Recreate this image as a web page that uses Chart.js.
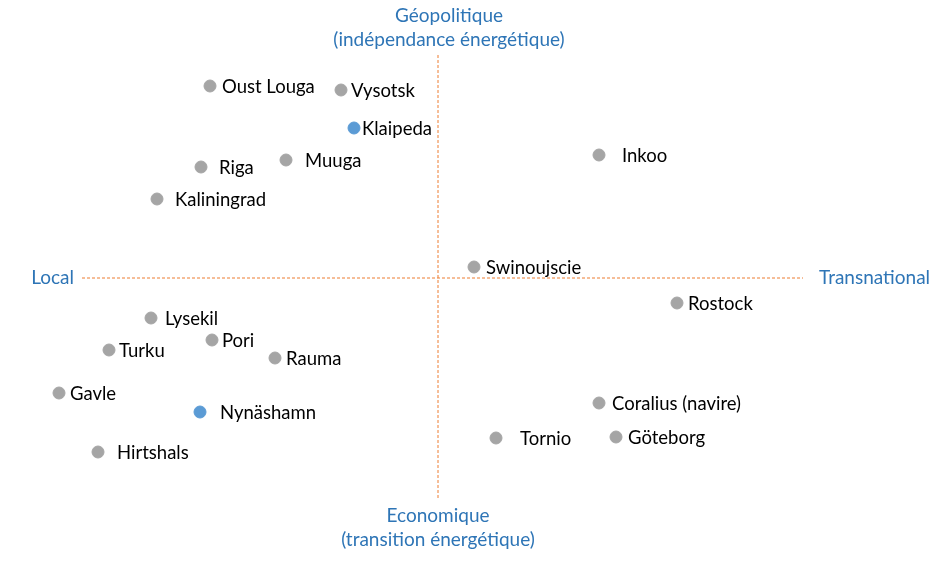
<!DOCTYPE html>
<html>
<head>
<meta charset="utf-8">
<script src="https://cdn.jsdelivr.net/npm/chart.js@4.4.0/dist/chart.umd.min.js"></script>
<style>
  html, body { margin: 0; padding: 0; background: #fff; }
  #wrap { width: 945px; height: 575px; }
</style>
</head>
<body>
<div id="wrap"><canvas id="mycanvas" width="945" height="575"></canvas></div>
<script>
// ports, position on the two axes (local -> transnational, economique -> geopolitique)
var ports = ['Oust Louga', 'Vysotsk', 'Klaipeda', 'Inkoo', 'Riga', 'Muuga', 'Kaliningrad',
  'Swinoujscie', 'Rostock', 'Lysekil', 'Pori', 'Turku', 'Rauma', 'Gavle', 'Nynäshamn',
  'Coralius (navire)', 'Tornio', 'Göteborg', 'Hirtshals'];
var scope = [-22.8, -9.7, -8.4, 16.1, -23.7, -15.2, -28.1,
  3.6, 23.9, -28.7, -22.6, -32.9, -16.3, -37.9, -23.8,
  16.1, 5.8, 17.8, -34.0];
var motive = [19.2, 18.8, 15.0, 12.3, 11.1, 11.8, 7.9,
  1.1, -2.5, -4.0, -6.2, -7.2, -8.0, -11.5, -13.4,
  -12.5, -16.0, -15.9, -17.4];
var highlighted = ['Klaipeda', 'Nynäshamn'];

// axis ends and their titles
var axisX = [-35.6, 36.5];
var axisY = [-22.0, 22.3];
var leftTitle = 'Local';
var rightTitle = 'Transnational';
var topTitle = ['Géopolitique', '(indépendance énergétique)'];
var bottomTitle = ['Economique', '(transition énergétique)'];

// gap between dot and its label (px)
var labelGap = [12, 10, 8, 23, 18, 19, 18, 12, 11, 14, 10, 10, 11, 11, 20, 13, 24, 12, 19];

var grey = '#a5a5a5';
var blue = '#5b9bd5';
var orange = '#ed7d31';
var titleBlue = '#2e75b6';
var font = 'Lato, "Noto Sans", sans-serif';

var points = [];
var colors = [];
for (var i in ports) {
  points.push({ x: scope[i], y: motive[i] });
  colors.push(highlighted.indexOf(ports[i]) >= 0 ? blue : grey);
}

var labelPlugin = {
  id: 'labels',
  afterDatasetsDraw: function(chart) {
    var ctx = chart.ctx;
    var meta = chart.getDatasetMeta(0);
    ctx.save();
    ctx.font = '18.5px ' + font;
    ctx.fillStyle = '#000';
    ctx.textAlign = 'left';
    ctx.textBaseline = 'middle';
    meta.data.forEach(function(pt, i) {
      ctx.fillText(ports[i], pt.x + labelGap[i], pt.y + 1);
    });

    var xs = chart.scales.x, ys = chart.scales.y;
    var cx = xs.getPixelForValue(0), cy = ys.getPixelForValue(0);
    ctx.font = '19px ' + font;
    ctx.fillStyle = titleBlue;
    ctx.textAlign = 'right';
    ctx.fillText(leftTitle, xs.getPixelForValue(axisX[0]) - 8, cy);
    ctx.textAlign = 'left';
    ctx.fillText(rightTitle, xs.getPixelForValue(axisX[1]) + 16, cy);
    ctx.textAlign = 'center';
    var top = ys.getPixelForValue(axisY[1]);
    ctx.fillText(topTitle[0], cx + 11, top - 39);
    ctx.fillText(topTitle[1], cx + 11, top - 15);
    var bot = ys.getPixelForValue(axisY[0]);
    ctx.fillText(bottomTitle[0], cx, bot + 18);
    ctx.fillText(bottomTitle[1], cx, bot + 42);
    ctx.restore();
  }
};

var ctx = document.getElementById('mycanvas');
var chart = new Chart(ctx, {
  type: 'scatter',
  data: {
    datasets: [
      {
        label: 'Ports',
        data: points,
        backgroundColor: colors,
        borderColor: colors,
        pointRadius: 6,
        pointHoverRadius: 6,
        order: 0
      },
      {
        label: 'axe horizontal',
        type: 'line',
        data: [{ x: axisX[0], y: 0 }, { x: axisX[1], y: 0 }],
        borderColor: orange,
        borderWidth: 1,
        borderDash: [3, 2],
        pointRadius: 0,
        order: 1
      },
      {
        label: 'axe vertical',
        type: 'line',
        data: [{ x: 0, y: axisY[0] }, { x: 0, y: axisY[1] }],
        borderColor: orange,
        borderWidth: 1,
        borderDash: [3, 2],
        pointRadius: 0,
        order: 1
      }
    ]
  },
  options: {
    responsive: false,
    animation: false,
    layout: { padding: 0, autoPadding: false },
    plugins: { legend: { display: false }, tooltip: { enabled: false } },
    scales: {
      x: { type: 'linear', min: -43.8, max: 50.7, display: false },
      y: { type: 'linear', min: -29.7, max: 27.8, display: false }
    }
  },
  plugins: [labelPlugin]
});
</script>
</body>
</html>
